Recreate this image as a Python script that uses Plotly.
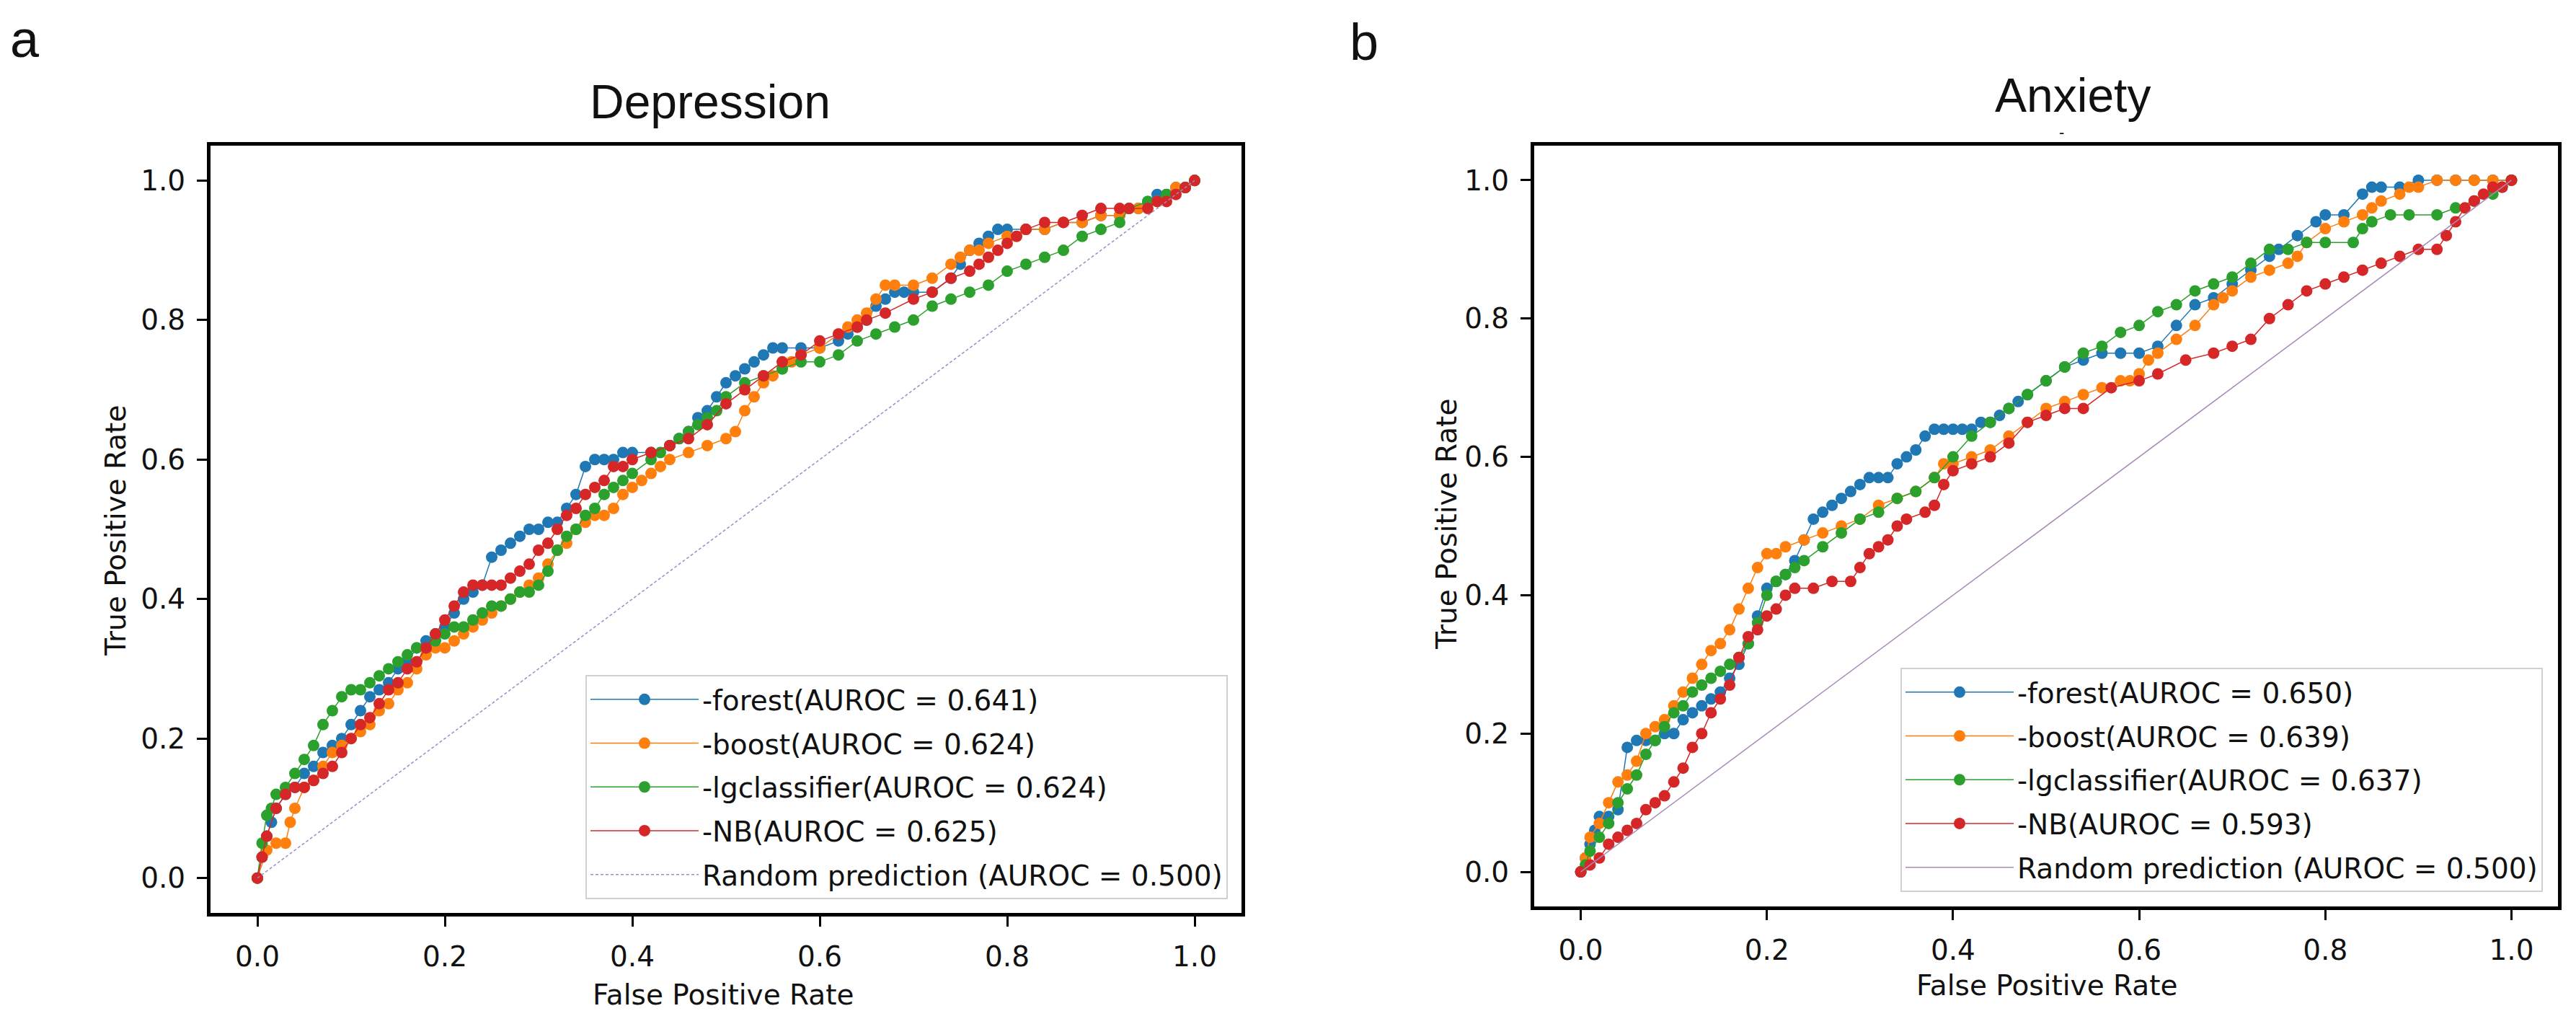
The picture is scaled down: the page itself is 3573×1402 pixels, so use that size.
import plotly.graph_objects as go

# ---- Depression ROC points ----
dep_forest_fpr = [0, .005, .01, .015, .02, .03, .04, .05, .06, .07, .08, .09, .10, .11, .12, .13, .14, .15, .16, .17,
                  .18, .19, .20, .21, .22, .23, .24, .25, .26, .27, .28, .29, .30, .31, .32, .33, .34, .35, .36, .37,
                  .38, .39, .40, .42, .44, .45, .46, .47, .48, .49, .50, .51, .52, .53, .54, .55, .56, .58, .60, .62,
                  .63, .64, .65, .66, .67, .68, .69, .70, .72, .74, .75, .76, .77, .78, .79, .80, .82, .84, .86, .88,
                  .90, .92, .94, .95, .96, .97, .98, .99, 1.0]
dep_forest_tpr = [0, .03, .06, .08, .10, .12, .13, .15, .16, .18, .19, .20, .22, .24, .26, .27, .28, .30, .31, .33,
                  .34, .35, .36, .38, .40, .41, .42, .46, .47, .48, .49, .50, .50, .51, .51, .53, .55, .59, .60, .60,
                  .60, .61, .61, .61, .62, .63, .64, .66, .67, .69, .71, .72, .73, .74, .75, .76, .76, .76, .76, .77,
                  .78, .79, .80, .82, .83, .84, .84, .84, .84, .86, .88, .90, .91, .92, .93, .93, .93, .93, .94, .94,
                  .95, .95, .96, .97, .98, .98, .99, .99, 1.0]

dep_boost_fpr = [0, .01, .02, .03, .035, .04, .05, .06, .07, .08, .09, .10, .11, .12, .13, .14, .15, .16, .17, .18,
                 .19, .20, .21, .22, .23, .24, .25, .26, .27, .28, .29, .30, .31, .32, .33, .34, .35, .36, .37, .38,
                 .39, .40, .41, .42, .43, .44, .46, .48, .50, .51, .52, .53, .54, .55, .56, .57, .58, .60, .62, .63,
                 .64, .65, .66, .67, .68, .70, .72, .74, .75, .76, .77, .78, .80, .82, .84, .86, .88, .90, .92, .94,
                 .96, .98, .99, 1.0]
dep_boost_tpr = [0, .04, .05, .05, .08, .10, .13, .14, .16, .18, .19, .20, .21, .22, .24, .25, .27, .28, .30, .32,
                 .33, .33, .34, .35, .36, .37, .38, .39, .40, .41, .42, .43, .45, .47, .48, .50, .51, .52, .52, .53,
                 .55, .56, .57, .58, .59, .60, .61, .62, .63, .64, .67, .69, .71, .72, .73, .74, .75, .76, .78, .79,
                 .80, .81, .83, .85, .85, .85, .86, .88, .89, .90, .90, .91, .92, .93, .93, .94, .94, .95, .95, .96,
                 .97, .99, .99, 1.0]

dep_lg_fpr = [0, .005, .01, .015, .02, .03, .04, .05, .06, .07, .08, .09, .10, .11, .12, .13, .14, .15, .16, .17,
              .18, .19, .20, .21, .22, .23, .24, .25, .26, .27, .28, .29, .30, .31, .32, .33, .34, .35, .36, .37,
              .38, .39, .40, .42, .43, .44, .45, .46, .47, .48, .49, .50, .52, .54, .56, .58, .60, .62, .64, .66,
              .68, .70, .72, .74, .76, .78, .80, .82, .84, .86, .88, .90, .92, .93, .95, .97, .99, 1.0]
dep_lg_tpr = [0, .05, .09, .10, .12, .13, .15, .17, .19, .22, .24, .26, .27, .27, .28, .29, .30, .31, .32, .33,
              .33, .34, .35, .36, .36, .37, .38, .39, .39, .40, .41, .41, .42, .44, .47, .49, .50, .52, .53, .55,
              .56, .57, .58, .60, .61, .62, .63, .64, .65, .66, .67, .69, .71, .72, .73, .74, .74, .75, .77, .78,
              .79, .80, .82, .83, .84, .85, .87, .88, .89, .90, .92, .93, .94, .96, .97, .98, .99, 1.0]

dep_nb_fpr = [0, .005, .01, .02, .03, .04, .05, .06, .07, .08, .09, .10, .11, .12, .13, .14, .15, .16, .17, .18,
              .19, .20, .21, .22, .23, .24, .25, .26, .27, .28, .29, .30, .31, .32, .33, .34, .35, .36, .37, .38,
              .39, .40, .42, .44, .46, .48, .50, .52, .54, .56, .58, .60, .62, .64, .65, .67, .70, .72, .74, .76,
              .77, .78, .79, .80, .81, .82, .84, .86, .88, .90, .92, .93, .95, .96, .97, .98, .99, 1.0]
dep_nb_tpr = [0, .03, .06, .10, .12, .13, .13, .14, .15, .16, .18, .20, .22, .23, .25, .27, .28, .30, .31, .33,
              .35, .37, .39, .41, .42, .42, .42, .42, .43, .44, .45, .47, .48, .50, .52, .53, .55, .56, .57, .59,
              .59, .60, .61, .62, .63, .65, .68, .70, .72, .74, .75, .77, .78, .79, .80, .81, .83, .84, .86, .87,
              .88, .89, .90, .91, .92, .93, .94, .94, .95, .96, .96, .96, .96, .97, .97, .98, .99, 1.0]

# ---- Anxiety ROC points ----
anx_forest_fpr = [0, .005, .01, .015, .02, .03, .04, .05, .06, .07, .08, .09, .10, .11, .12, .13, .14, .15, .16, .17,
                  .18, .19, .20, .21, .22, .23, .24, .25, .26, .27, .28, .29, .30, .31, .32, .33, .34, .35, .36, .37,
                  .38, .39, .40, .41, .42, .43, .44, .45, .46, .47, .48, .50, .52, .54, .56, .58, .60, .62, .64, .66,
                  .68, .70, .72, .74, .75, .77, .79, .80, .82, .84, .85, .86, .88, .90, .92, .94, .96, .98, 1.0]
anx_forest_tpr = [0, .02, .04, .06, .08, .08, .09, .18, .19, .19, .19, .20, .20, .22, .23, .24, .25, .26, .28, .30,
                  .33, .37, .41, .42, .43, .45, .48, .51, .52, .53, .54, .55, .56, .57, .57, .57, .59, .60, .61, .63,
                  .64, .64, .64, .64, .64, .65, .65, .66, .67, .68, .69, .71, .73, .74, .75, .75, .75, .76, .79, .82,
                  .83, .85, .87, .89, .90, .92, .94, .95, .95, .98, .99, .99, .99, 1.0, 1.0, 1.0, 1.0, 1.0, 1.0]

anx_boost_fpr = [0, .005, .01, .02, .03, .04, .05, .06, .07, .08, .09, .10, .11, .12, .13, .14, .15, .16, .17, .18,
                 .19, .20, .21, .22, .24, .26, .28, .30, .32, .34, .36, .38, .39, .40, .42, .44, .46, .48, .50, .52,
                 .54, .56, .58, .59, .60, .61, .62, .64, .66, .68, .69, .70, .72, .74, .76, .77, .78, .80, .82, .84,
                 .85, .86, .88, .89, .90, .92, .94, .96, .98, 1.0]
anx_boost_tpr = [0, .02, .05, .07, .10, .13, .14, .16, .20, .21, .22, .24, .26, .28, .30, .32, .33, .35, .38, .41,
                 .44, .46, .46, .47, .48, .49, .50, .51, .53, .54, .55, .57, .59, .59, .60, .61, .63, .65, .67, .68,
                 .69, .70, .71, .71, .72, .74, .75, .77, .79, .82, .83, .84, .86, .87, .88, .89, .91, .93, .94, .95,
                 .96, .97, .98, .99, .99, 1.0, 1.0, 1.0, 1.0, 1.0]

anx_lg_fpr = [0, .005, .01, .02, .03, .04, .05, .06, .07, .08, .09, .10, .11, .12, .13, .14, .15, .16, .17, .18,
              .19, .20, .21, .22, .23, .24, .26, .28, .30, .32, .34, .36, .38, .40, .42, .44, .46, .48, .50, .52,
              .54, .56, .58, .60, .62, .64, .66, .68, .70, .72, .74, .76, .78, .80, .83, .84, .85, .87, .89, .92,
              .94, .96, .98, .99, 1.0]
anx_lg_tpr = [0, .01, .03, .05, .07, .10, .12, .14, .17, .19, .21, .23, .24, .26, .27, .28, .29, .30, .31, .33,
              .36, .40, .42, .43, .44, .45, .47, .49, .51, .52, .54, .55, .57, .60, .63, .65, .67, .69, .71, .73,
              .75, .76, .78, .79, .81, .82, .84, .85, .86, .88, .90, .90, .91, .91, .91, .93, .94, .95, .95, .95,
              .96, .97, .98, .99, 1.0]

anx_nb_fpr = [0, .01, .02, .03, .04, .05, .06, .07, .08, .09, .10, .11, .12, .13, .14, .15, .16, .17, .18, .19,
              .20, .21, .22, .23, .25, .27, .29, .30, .31, .32, .33, .34, .35, .37, .38, .39, .40, .42, .44, .46,
              .48, .50, .52, .54, .57, .60, .62, .65, .68, .70, .72, .74, .76, .78, .80, .82, .84, .86, .88, .90,
              .92, .93, .94, .95, .96, .97, .98, .99, 1.0]
anx_nb_tpr = [0, .01, .02, .04, .05, .06, .07, .09, .10, .11, .13, .15, .18, .20, .23, .25, .27, .31, .34, .35,
              .37, .38, .40, .41, .41, .42, .42, .44, .46, .47, .48, .50, .51, .52, .53, .56, .58, .59, .60, .62,
              .65, .66, .67, .67, .70, .71, .72, .74, .75, .76, .77, .80, .82, .84, .85, .86, .87, .88, .89, .90,
              .90, .92, .94, .96, .97, .98, .99, .99, 1.0]

diag = [0, 1]

models = ["-forest", "-boost", "-lgclassifier", "-NB"]
colors = ["#1f77b4", "#ff7f0e", "#2ca02c", "#d62728"]
dep_auroc = [0.641, 0.624, 0.624, 0.625]
anx_auroc = [0.650, 0.639, 0.637, 0.593]
tick_vals = [0.0, 0.2, 0.4, 0.6, 0.8, 1.0]
tick_text = ["0.0", "0.2", "0.4", "0.6", "0.8", "1.0"]

W, H = 3573, 1402
TICK_FONT = dict(family="DejaVu Sans", size=39, color="#111111")
TITLE_FONT = "Liberation Sans, Arial"


def px(x):
    return x / W


def py(y):
    return 1 - y / H


fig = go.Figure()

dep_curves = [(dep_forest_fpr, dep_forest_tpr), (dep_boost_fpr, dep_boost_tpr),
              (dep_lg_fpr, dep_lg_tpr), (dep_nb_fpr, dep_nb_tpr)]
anx_curves = [(anx_forest_fpr, anx_forest_tpr), (anx_boost_fpr, anx_boost_tpr),
              (anx_lg_fpr, anx_lg_tpr), (anx_nb_fpr, anx_nb_tpr)]

for i, (fpr, tpr) in enumerate(dep_curves):
    fig.add_trace(go.Scatter(
        x=fpr, y=tpr, mode="lines+markers",
        name=f"{models[i]}(AUROC = {dep_auroc[i]:.3f})",
        line=dict(color=colors[i], width=1.5),
        marker=dict(color=colors[i], size=16),
        xaxis="x", yaxis="y", legend="legend", legendgroup=f"d{i}",
    ))
fig.add_trace(go.Scatter(
    x=diag, y=diag, mode="lines", name="Random prediction (AUROC = 0.500)",
    line=dict(color="#9a8cc8", width=1.5, dash="4px,3px"),
    xaxis="x", yaxis="y", legend="legend", legendgroup="d4",
))

for i, (fpr, tpr) in enumerate(anx_curves):
    fig.add_trace(go.Scatter(
        x=fpr, y=tpr, mode="lines+markers",
        name=f"{models[i]}(AUROC = {anx_auroc[i]:.3f})",
        line=dict(color=colors[i], width=1.5),
        marker=dict(color=colors[i], size=16),
        xaxis="x2", yaxis="y2", legend="legend2", legendgroup=f"a{i}",
    ))
fig.add_trace(go.Scatter(
    x=diag, y=diag, mode="lines", name="Random prediction (AUROC = 0.500)",
    line=dict(color="#a88ab8", width=1.5),
    xaxis="x2", yaxis="y2", legend="legend2", legendgroup="a4",
))

axis_style = dict(
    range=[-0.05, 1.05], tickvals=tick_vals, ticktext=tick_text,
    showline=True, mirror=True, linecolor="black", linewidth=5,
    ticks="outside", ticklen=14, tickwidth=3, tickcolor="black",
    showgrid=False, zeroline=False, tickfont=TICK_FONT, ticklabelstandoff=8,
)

legend_style = dict(
    font=dict(family="DejaVu Sans", size=39, color="#111111"),
    bgcolor="rgba(255,255,255,0.85)", bordercolor="#d0d0d0", borderwidth=2,
    itemwidth=150, traceorder="grouped", tracegroupgap=7,
    xanchor="right", yanchor="bottom",
)

fig.update_layout(
    width=W, height=H, autosize=False,
    margin=dict(l=0, r=0, t=0, b=0),
    paper_bgcolor="white", plot_bgcolor="white",
    xaxis=dict(domain=[px(292), px(1722)], anchor="y", **axis_style),
    yaxis=dict(domain=[py(1266), py(202)], anchor="x", **axis_style),
    xaxis2=dict(domain=[px(2128), px(3548)], anchor="y2", **axis_style),
    yaxis2=dict(domain=[py(1257), py(202)], anchor="x2", **axis_style),
    legend=dict(x=px(1703), y=py(1247), **legend_style),
    legend2=dict(x=px(3527), y=py(1237), **legend_style),
)

texts = [
    ("a", 34, 54, 72, TITLE_FONT, 0),
    ("b", 1892, 58, 72, TITLE_FONT, 0),
    ("Depression", 985, 141, 66, TITLE_FONT, 0),
    ("Anxiety", 2875, 132, 66, TITLE_FONT, 0),
    ("-", 2859, 183, 22, TITLE_FONT, 0),
    ("True Positive Rate", 160, 736, 39, "DejaVu Sans", -90),
    ("True Positive Rate", 2006, 727, 39, "DejaVu Sans", -90),
    ("False Positive Rate", 1003, 1379, 39, "DejaVu Sans", 0),
    ("False Positive Rate", 2839, 1366, 39, "DejaVu Sans", 0),
]
for text, x, y, size, family, angle in texts:
    fig.add_annotation(
        text=text, x=px(x), y=py(y), xref="paper", yref="paper",
        xanchor="center", yanchor="middle", showarrow=False, textangle=angle,
        font=dict(family=family, size=size, color="#111111"),
    )

fig.write_html("out.html", config={"displayModeBar": False},
               post_script="document.body.style.margin='0';")
